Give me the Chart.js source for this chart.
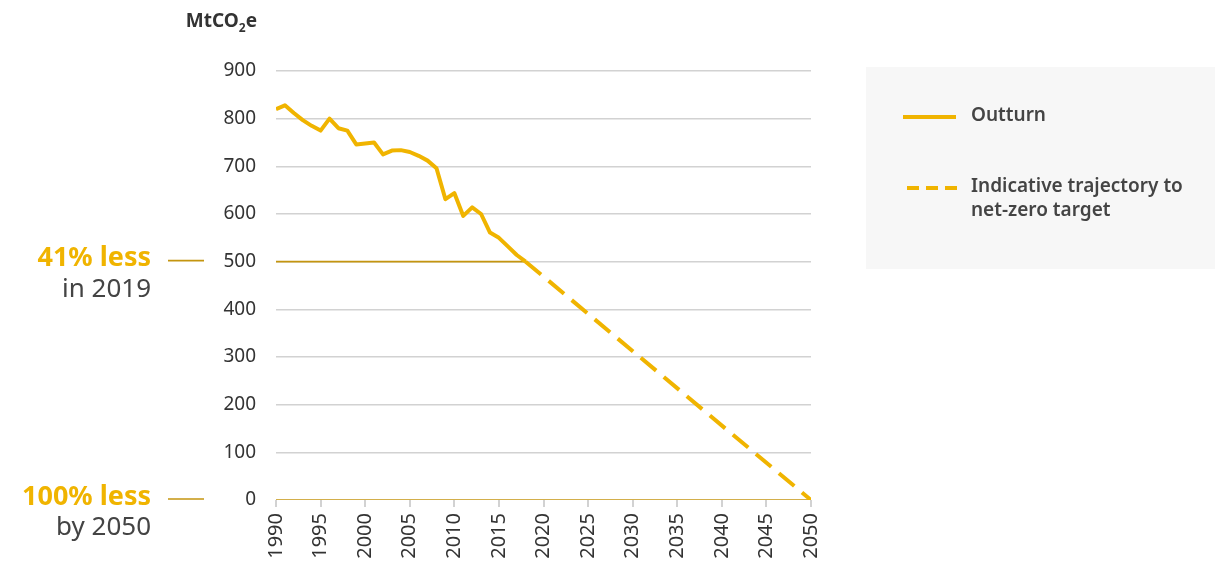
<!DOCTYPE html>
<html>
<head>
<meta charset="utf-8">
<script src="https://cdn.jsdelivr.net/npm/chart.js@4.4.1/dist/chart.umd.min.js"></script>
<style>
  html, body { margin: 0; padding: 0; background: #ffffff; }
  #wrap { width: 1215px; height: 568px; position: relative; }
</style>
</head>
<body>
<div id="wrap"><canvas id="c" width="1215" height="568"></canvas></div>
<script>
// Greenhouse gas emissions, MtCO2e
const outturnYears  = [1990, 1991, 1992, 1993, 1994, 1995, 1996, 1997, 1998, 1999,
                       2000, 2001, 2002, 2003, 2004, 2005, 2006, 2007, 2008, 2009,
                       2010, 2011, 2012, 2013, 2014, 2015, 2016, 2017, 2018];
const outturnValues = [820, 828, 812, 797, 785, 775, 800, 780, 775, 746,
                       748, 750, 725, 733, 734, 730, 722, 712, 696, 631,
                       644, 596, 614, 600, 561, 550, 532, 514, 500];

// Straight path from the last outturn year to net zero
const trajectoryYears  = [2018, 2050];
const trajectoryValues = [500, 0];

// Reference levels with their side notes
const markerLevels  = [500, 0];
const markerStarts  = [1990, 1990];
const markerEnds    = [2018, 2050];
const markerHeads   = ['41% less', '100% less'];
const markerSubs    = ['in 2019', 'by 2050'];

const xMin = 1990, xMax = 2050, xStep = 5;
const yMin = 0, yMax = 900, yStep = 100;

const legendLabels = ['Outturn', ['Indicative trajectory to', 'net-zero target']];

const GOLD = '#f0b400';
const DARK_GOLD = '#c4950f';
const GRID = '#d2d2d2';
const TEXT = '#333333';
const FONT = '"Noto Sans", "Open Sans", sans-serif';

const pts = (xs, ys) => xs.map((x, i) => ({ x, y: ys[i] }));

const markerDatasets = markerLevels.map((lvl, i) => ({
  label: 'marker' + i,
  data: pts([markerStarts[i], markerEnds[i]], [lvl, lvl]),
  borderColor: DARK_GOLD,
  borderWidth: 1.6,
  pointRadius: 0,
  order: 10
}));

const sideNotes = {
  id: 'sideNotes',
  afterDraw(chart) {
    const { ctx } = chart;
    const y = chart.scales.y;
    ctx.save();
    markerLevels.forEach((lvl, i) => {
      const py = y.getPixelForValue(lvl);
      // short leader to the axis label
      ctx.strokeStyle = DARK_GOLD;
      ctx.lineWidth = 1.6;
      ctx.beginPath();
      ctx.moveTo(168, py - 1);
      ctx.lineTo(204, py - 1);
      ctx.stroke();
      ctx.textAlign = 'right';
      ctx.textBaseline = 'middle';
      ctx.fillStyle = GOLD;
      ctx.font = 'bold 27px ' + FONT;
      ctx.fillText(markerHeads[i], 151, py - 3);
      ctx.fillStyle = '#444444';
      ctx.font = '26px ' + FONT;
      ctx.fillText(markerSubs[i], 151, py + 28);
    });

    // unit title above the value axis
    ctx.fillStyle = TEXT;
    ctx.textBaseline = 'alphabetic';
    ctx.textAlign = 'left';
    const big = 'bold 19px ' + FONT, small = 'bold 12px ' + FONT;
    ctx.font = big;  const w1 = ctx.measureText('MtCO').width;
    ctx.font = small; const w2 = ctx.measureText('2').width;
    ctx.font = big;  const w3 = ctx.measureText('e').width;
    let x0 = 257 - (w1 + w2 + w3);
    ctx.font = big; ctx.fillText('MtCO', x0, 27);
    ctx.font = small; ctx.fillText('2', x0 + w1, 32);
    ctx.font = big; ctx.fillText('e', x0 + w1 + w2, 27);

    // legend panel
    ctx.fillStyle = '#f7f7f7';
    ctx.fillRect(866, 67, 349, 202);
    ctx.strokeStyle = GOLD;
    ctx.lineWidth = 4;
    ctx.beginPath();
    ctx.moveTo(903, 117); ctx.lineTo(956, 117);
    ctx.stroke();
    ctx.setLineDash([12, 7]);
    ctx.beginPath();
    ctx.moveTo(907, 188); ctx.lineTo(957, 188);
    ctx.stroke();
    ctx.setLineDash([]);
    ctx.fillStyle = '#444444';
    ctx.font = '600 19px ' + FONT;
    ctx.textBaseline = 'middle';
    ctx.fillText(legendLabels[0], 971, 116);
    ctx.fillText(legendLabels[1][0], 971, 187);
    ctx.fillText(legendLabels[1][1], 971, 211);
    ctx.restore();
  }
};

new Chart(document.getElementById('c'), {
  type: 'line',
  data: {
    datasets: [
      {
        label: 'Outturn',
        data: pts(outturnYears, outturnValues),
        borderColor: GOLD,
        borderWidth: 4,
        pointRadius: 0,
        tension: 0,
        borderJoinStyle: 'round',
        order: 1
      },
      {
        label: 'Indicative trajectory to net-zero target',
        data: pts(trajectoryYears, trajectoryValues),
        borderColor: GOLD,
        borderWidth: 4,
        borderDash: [20, 10],
        pointRadius: 0,
        order: 2
      },
      ...markerDatasets
    ]
  },
  options: {
    responsive: false,
    animation: false,
    layout: { padding: { left: 0, right: 404, top: 71, bottom: 0 } },
    plugins: { legend: { display: false }, tooltip: { enabled: false } },
    scales: {
      x: {
        type: 'linear',
        min: xMin, max: xMax,
        afterFit(scale) { scale.height = 68; },
        ticks: {
          stepSize: xStep,
          autoSkip: false,
          minRotation: 90, maxRotation: 90,
          padding: 6,
          color: TEXT,
          font: { family: FONT, size: 20 },
          callback: v => String(v)
        },
        grid: { drawOnChartArea: false, drawTicks: true, tickLength: 7, color: GRID, lineWidth: 2 },
        border: { display: false }
      },
      y: {
        min: yMin, max: yMax,
        afterFit(scale) { scale.width = 276; },
        ticks: {
          stepSize: yStep,
          padding: 20,
          color: TEXT,
          font: { family: FONT, size: 19 }
        },
        grid: {
          drawTicks: false,
          color: ctx => (ctx.tick && ctx.tick.value === 0) ? 'rgba(0,0,0,0)' : GRID,
          lineWidth: 1.5
        },
        border: { display: false }
      }
    }
  },
  plugins: [sideNotes]
});
</script>
</body>
</html>
